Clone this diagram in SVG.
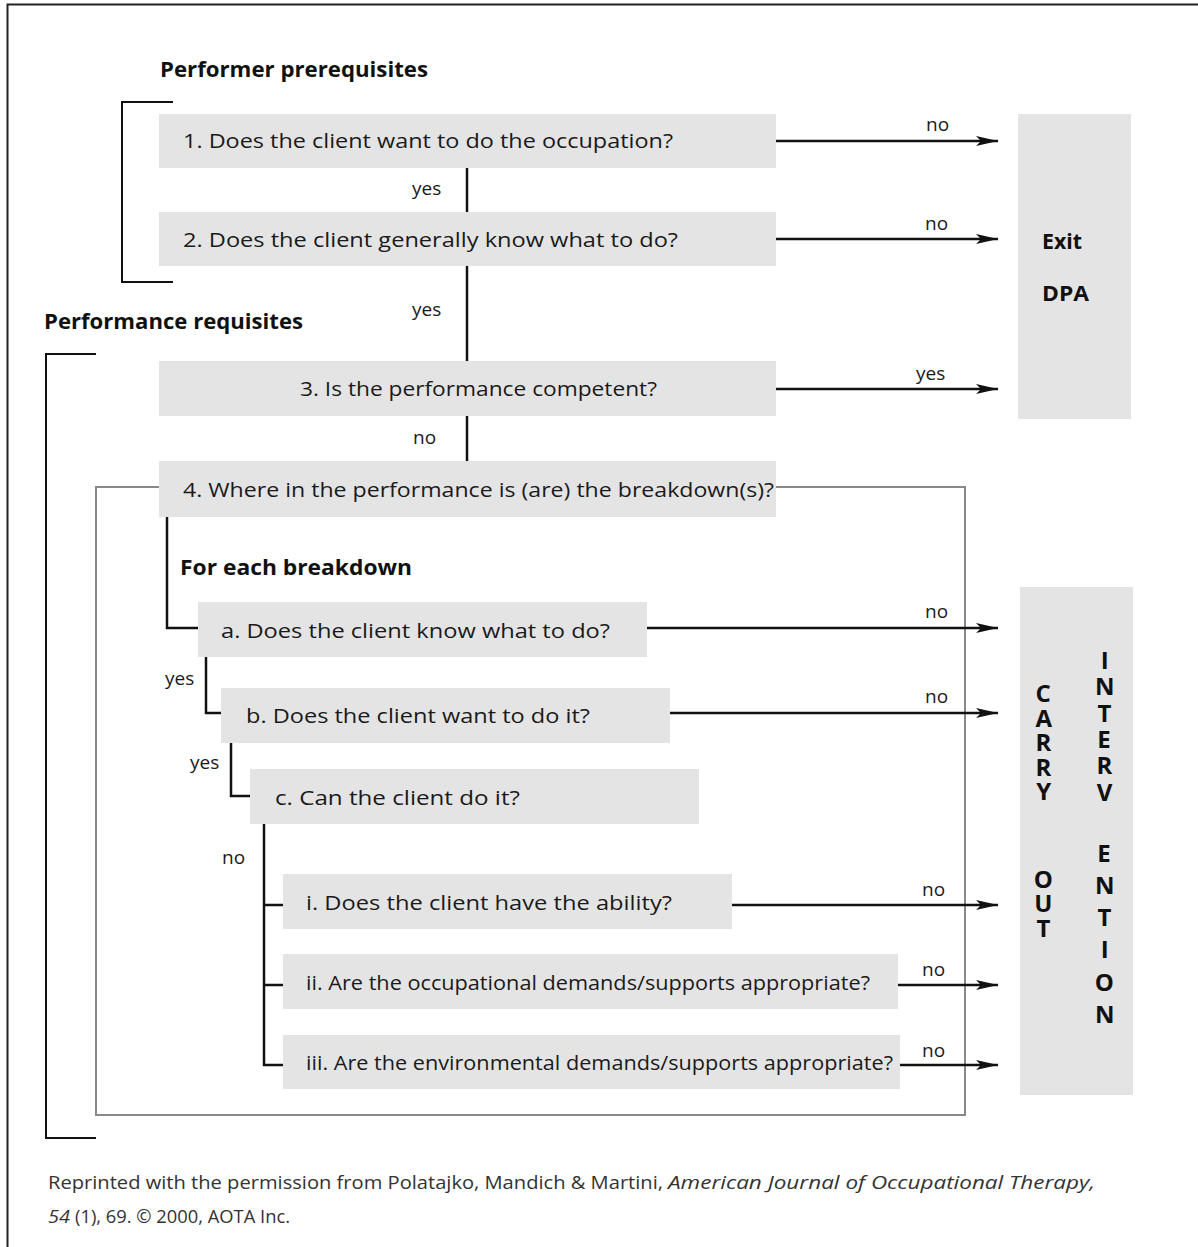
<svg xmlns="http://www.w3.org/2000/svg" width="1198" height="1247" viewBox="0 0 1198 1247">
<style>
.box{fill:#e4e4e4}
.t{font-family:"Open Sans","DejaVu Sans",sans-serif;font-size:20.5px;fill:#1a1a1a}
.lbl{font-family:"Open Sans","DejaVu Sans",sans-serif;font-size:19px;fill:#1a1a1a}
.b{font-family:"Open Sans","DejaVu Sans",sans-serif;font-size:21px;font-weight:bold;fill:#111}
.v{font-family:"Open Sans","DejaVu Sans",sans-serif;font-size:24px;font-weight:bold;fill:#111;writing-mode:vertical-rl;text-orientation:upright}
.ft{font-family:"Open Sans","DejaVu Sans",sans-serif;font-size:18px;fill:#333}
.ln{stroke:#111;stroke-width:2.5;fill:none}
.ar{stroke:#111;stroke-width:2.5;fill:none;marker-end:url(#ah)}
.br{stroke:#111;stroke-width:2;fill:none}
</style>
<defs>
<marker id="ah" markerUnits="userSpaceOnUse" markerWidth="24" markerHeight="12" refX="22" refY="6" orient="auto">
<path d="M0,1 L22,6 L0,11 L5,6 z" fill="#111"/>
</marker>
</defs>
<rect width="1198" height="1247" fill="#fff"/>
<g id="frame">
<path d="M7.5,1247 V4.5 H1198" stroke="#222" stroke-width="2" fill="none"/>
</g>
<g id="brackets">
<path class="br" d="M173,102 H122 V282 H173"/>
<path class="br" d="M96,354 H46 V1138 H96"/>
<rect x="96" y="487" width="869" height="628" fill="none" stroke="#888" stroke-width="2"/>
</g>
<g id="headings">
<text class="b" x="160" y="77" textLength="268" lengthAdjust="spacingAndGlyphs">Performer prerequisites</text>
<text class="b" x="44" y="329" textLength="259" lengthAdjust="spacingAndGlyphs">Performance requisites</text>
<text class="b" x="180" y="575" textLength="232" lengthAdjust="spacingAndGlyphs">For each breakdown</text>
</g>
<g id="connectors">
<path class="ln" d="M467,168 V212"/>
<path class="ln" d="M467,266 V361"/>
<path class="ln" d="M467,416 V461"/>
<path class="ln" d="M167,517 V628 H198"/>
<path class="ln" d="M206,657 V713 H221"/>
<path class="ln" d="M231,743 V796 H250"/>
<path class="ln" d="M264,824 V1065 H283 M264,905 H283 M264,985 H283"/>
<path class="ar" d="M776,141 H998"/>
<path class="ar" d="M776,239 H998"/>
<path class="ar" d="M776,389 H998"/>
<path class="ar" d="M647,628 H998"/>
<path class="ar" d="M670,713 H998"/>
<path class="ar" d="M732,905 H998"/>
<path class="ar" d="M898,985 H998"/>
<path class="ar" d="M900,1065 H998"/>
<text class="lbl" x="412" y="195">yes</text>
<text class="lbl" x="412" y="316">yes</text>
<text class="lbl" x="413" y="444">no</text>
<text class="lbl" x="165" y="685">yes</text>
<text class="lbl" x="190" y="769">yes</text>
<text class="lbl" x="222" y="864">no</text>
<text class="lbl" x="926" y="131">no</text>
<text class="lbl" x="925" y="230">no</text>
<text class="lbl" x="916" y="380">yes</text>
<text class="lbl" x="925" y="618">no</text>
<text class="lbl" x="925" y="703">no</text>
<text class="lbl" x="922" y="896">no</text>
<text class="lbl" x="922" y="976">no</text>
<text class="lbl" x="922" y="1057">no</text>
</g>
<g id="q1"><rect class="box" x="159" y="114" width="617" height="54"/><text class="t" x="183" y="148" textLength="490" lengthAdjust="spacingAndGlyphs">1. Does the client want to do the occupation?</text></g>
<g id="q2"><rect class="box" x="159" y="212" width="617" height="54"/><text class="t" x="183" y="247" textLength="495" lengthAdjust="spacingAndGlyphs">2. Does the client generally know what to do?</text></g>
<g id="q3"><rect class="box" x="159" y="361" width="617" height="55"/><text class="t" x="300" y="396" textLength="357" lengthAdjust="spacingAndGlyphs">3. Is the performance competent?</text></g>
<g id="q4"><rect class="box" x="159" y="461" width="617" height="56"/><text class="t" x="183" y="497" textLength="591" lengthAdjust="spacingAndGlyphs">4. Where in the performance is (are) the breakdown(s)?</text></g>
<g id="qa"><rect class="box" x="198" y="602" width="449" height="55"/><text class="t" x="221" y="638" textLength="389" lengthAdjust="spacingAndGlyphs">a. Does the client know what to do?</text></g>
<g id="qb"><rect class="box" x="221" y="688" width="449" height="55"/><text class="t" x="246" y="723" textLength="344" lengthAdjust="spacingAndGlyphs">b. Does the client want to do it?</text></g>
<g id="qc"><rect class="box" x="250" y="769" width="449" height="55"/><text class="t" x="275" y="805" textLength="245" lengthAdjust="spacingAndGlyphs">c. Can the client do it?</text></g>
<g id="qi"><rect class="box" x="283" y="874" width="449" height="55"/><text class="t" x="306" y="910" textLength="366" lengthAdjust="spacingAndGlyphs">i. Does the client have the ability?</text></g>
<g id="qii"><rect class="box" x="283" y="954" width="615" height="55"/><text class="t" x="306" y="990" textLength="564" lengthAdjust="spacingAndGlyphs">ii. Are the occupational demands/supports appropriate?</text></g>
<g id="qiii"><rect class="box" x="283" y="1035" width="617" height="54"/><text class="t" x="306" y="1070" textLength="587" lengthAdjust="spacingAndGlyphs">iii. Are the environmental demands/supports appropriate?</text></g>
<g id="exit">
<rect class="box" x="1018" y="114" width="113" height="305"/>
<text class="b" x="1042" y="249" textLength="40" lengthAdjust="spacingAndGlyphs">Exit</text>
<text class="b" x="1042" y="301" textLength="47" lengthAdjust="spacingAndGlyphs">DPA</text>
</g>
<g id="intervention">
<rect class="box" x="1020" y="587" width="113" height="508"/>
<text class="v" x="1043" y="676"><tspan letter-spacing="-8.45">CARRY </tspan><tspan x="1043" y="862" letter-spacing="-8.2">OUT</tspan></text>
<text class="v" x="1104" y="643"><tspan letter-spacing="-6.7">INTERV</tspan><tspan x="1104" y="836" letter-spacing="-0.9">ENTION</tspan></text>
</g>
<g id="footer">
<text class="ft" x="48" y="1189" textLength="615" lengthAdjust="spacingAndGlyphs">Reprinted with the permission from Polatajko, Mandich &amp; Martini,</text>
<text class="ft" x="668" y="1189" font-style="italic" textLength="427" lengthAdjust="spacingAndGlyphs">American Journal of Occupational Therapy,</text>
<text class="ft" x="48" y="1223" font-style="italic" textLength="22" lengthAdjust="spacingAndGlyphs">54</text>
<text class="ft" x="75" y="1223" textLength="215" lengthAdjust="spacingAndGlyphs">(1), 69. © 2000, AOTA Inc.</text>
</g>
</svg>
